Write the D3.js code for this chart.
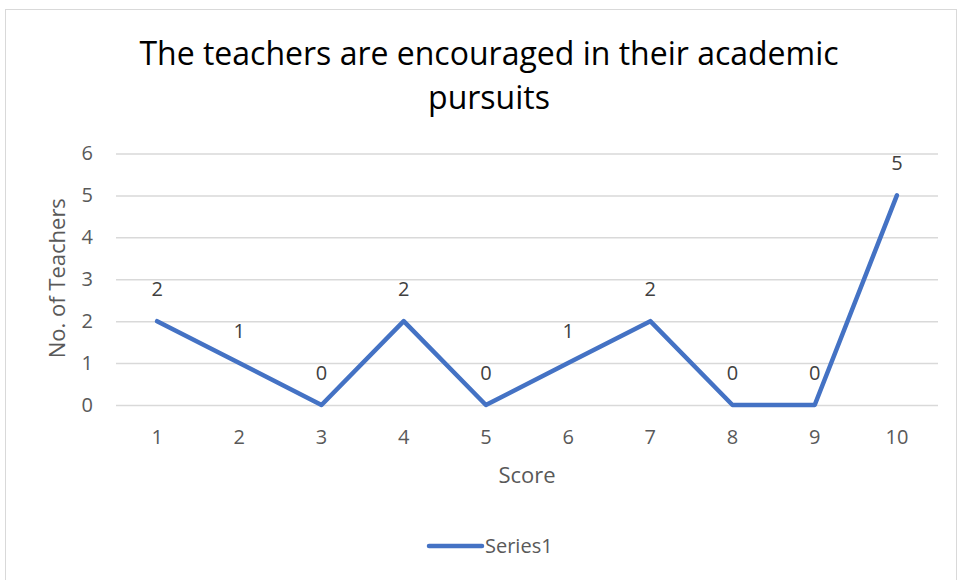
<!DOCTYPE html>
<html>
<head>
<meta charset="utf-8">
<script src="https://cdn.jsdelivr.net/npm/d3@7/dist/d3.min.js"></script>
<style>
  html, body { margin: 0; padding: 0; background: #fff; }
  svg { display: block; font-family: "Open Sans", "Liberation Sans", sans-serif; }
</style>
</head>
<body>
<svg id="chart" width="958" height="580"></svg>
<script>
// Scores on the x axis and how many teachers gave each score
const scores = ["1", "2", "3", "4", "5", "6", "7", "8", "9", "10"];
const teacherCounts = [2, 1, 0, 2, 0, 1, 2, 0, 0, 5];
const yTicks = [0, 1, 2, 3, 4, 5, 6];
const titleLines = ["The teachers are encouraged in their academic", "pursuits"];
const seriesName = "Series1";

const svg = d3.select("#chart");
const W = 958, H = 580;
const plot = { left: 116, right: 938, top: 153.5, bottom: 405 };
const blue = "#4472C4";
const textGrey = "#595959";
const font = "'Open Sans', 'Liberation Sans', sans-serif";

// Chart area frame
svg.append("rect")
  .attr("x", 5.5).attr("y", 9.5)
  .attr("width", W - 7).attr("height", H)
  .attr("fill", "#fff").attr("stroke", "#d9d9d9").attr("stroke-width", 1);

// Title
svg.append("g").selectAll("text")
  .data(titleLines)
  .join("text")
  .attr("x", 489)
  .attr("y", (d, i) => 65 + i * 44)
  .attr("text-anchor", "middle")
  .attr("font-size", 32)
  .attr("fill", "#000")
  .text(d => d);

const x = d3.scaleBand().domain(scores).range([plot.left, plot.right]);
const y = d3.scaleLinear().domain([0, 6]).range([plot.bottom, plot.top]);

// Horizontal gridlines
svg.append("g")
  .attr("transform", `translate(${plot.left},0)`)
  .call(d3.axisLeft(y).tickValues(yTicks).tickSize(-(plot.right - plot.left)).tickFormat(""))
  .call(g => g.select(".domain").remove())
  .call(g => g.selectAll("line").attr("stroke", "#d9d9d9").attr("stroke-width", 1.5));

// Y tick labels
svg.append("g")
  .attr("transform", `translate(${plot.left},0)`)
  .call(d3.axisLeft(y).tickValues(yTicks).tickSize(0).tickPadding(23).tickFormat(d3.format("d")))
  .call(g => g.select(".domain").remove())
  .call(g => g.selectAll("text")
    .attr("font-size", 20).attr("fill", textGrey).attr("font-family", font));

// X tick labels
svg.append("g")
  .attr("transform", `translate(0,${plot.bottom})`)
  .call(d3.axisBottom(x).tickSize(0))
  .call(g => g.select(".domain").remove())
  .call(g => g.selectAll("text")
    .attr("y", 39).attr("dy", 0)
    .attr("font-size", 20).attr("fill", textGrey).attr("font-family", font));

// Axis titles
svg.append("text")
  .attr("x", 527).attr("y", 483)
  .attr("text-anchor", "middle")
  .attr("font-size", 22).attr("fill", textGrey)
  .text("Score");

svg.append("text")
  .attr("transform", `translate(65,${(plot.top + plot.bottom) / 2 - 1}) rotate(-90)`)
  .attr("text-anchor", "middle")
  .attr("font-size", 22).attr("fill", textGrey)
  .text("No. of Teachers");

// Series line
const cx = (d, i) => x(scores[i]) + x.bandwidth() / 2;
const line = d3.line().x(cx).y(d => y(d));

svg.append("path")
  .datum(teacherCounts)
  .attr("d", line)
  .attr("fill", "none")
  .attr("stroke", blue)
  .attr("stroke-width", 4.5)
  .attr("stroke-linejoin", "round")
  .attr("stroke-linecap", "round");

// Data labels above each point
svg.append("g").selectAll("text")
  .data(teacherCounts)
  .join("text")
  .attr("x", cx)
  .attr("y", d => y(d) - 25)
  .attr("text-anchor", "middle")
  .attr("font-size", 20)
  .attr("fill", "#404040")
  .text(d => d);

// Legend
const legend = svg.append("g");
legend.append("line")
  .attr("x1", 429).attr("x2", 482)
  .attr("y1", 546).attr("y2", 546)
  .attr("stroke", blue).attr("stroke-width", 4.5)
  .attr("stroke-linecap", "round");
legend.append("text")
  .attr("x", 485).attr("y", 553)
  .attr("font-size", 20).attr("fill", textGrey)
  .text(seriesName);
</script>
</body>
</html>
